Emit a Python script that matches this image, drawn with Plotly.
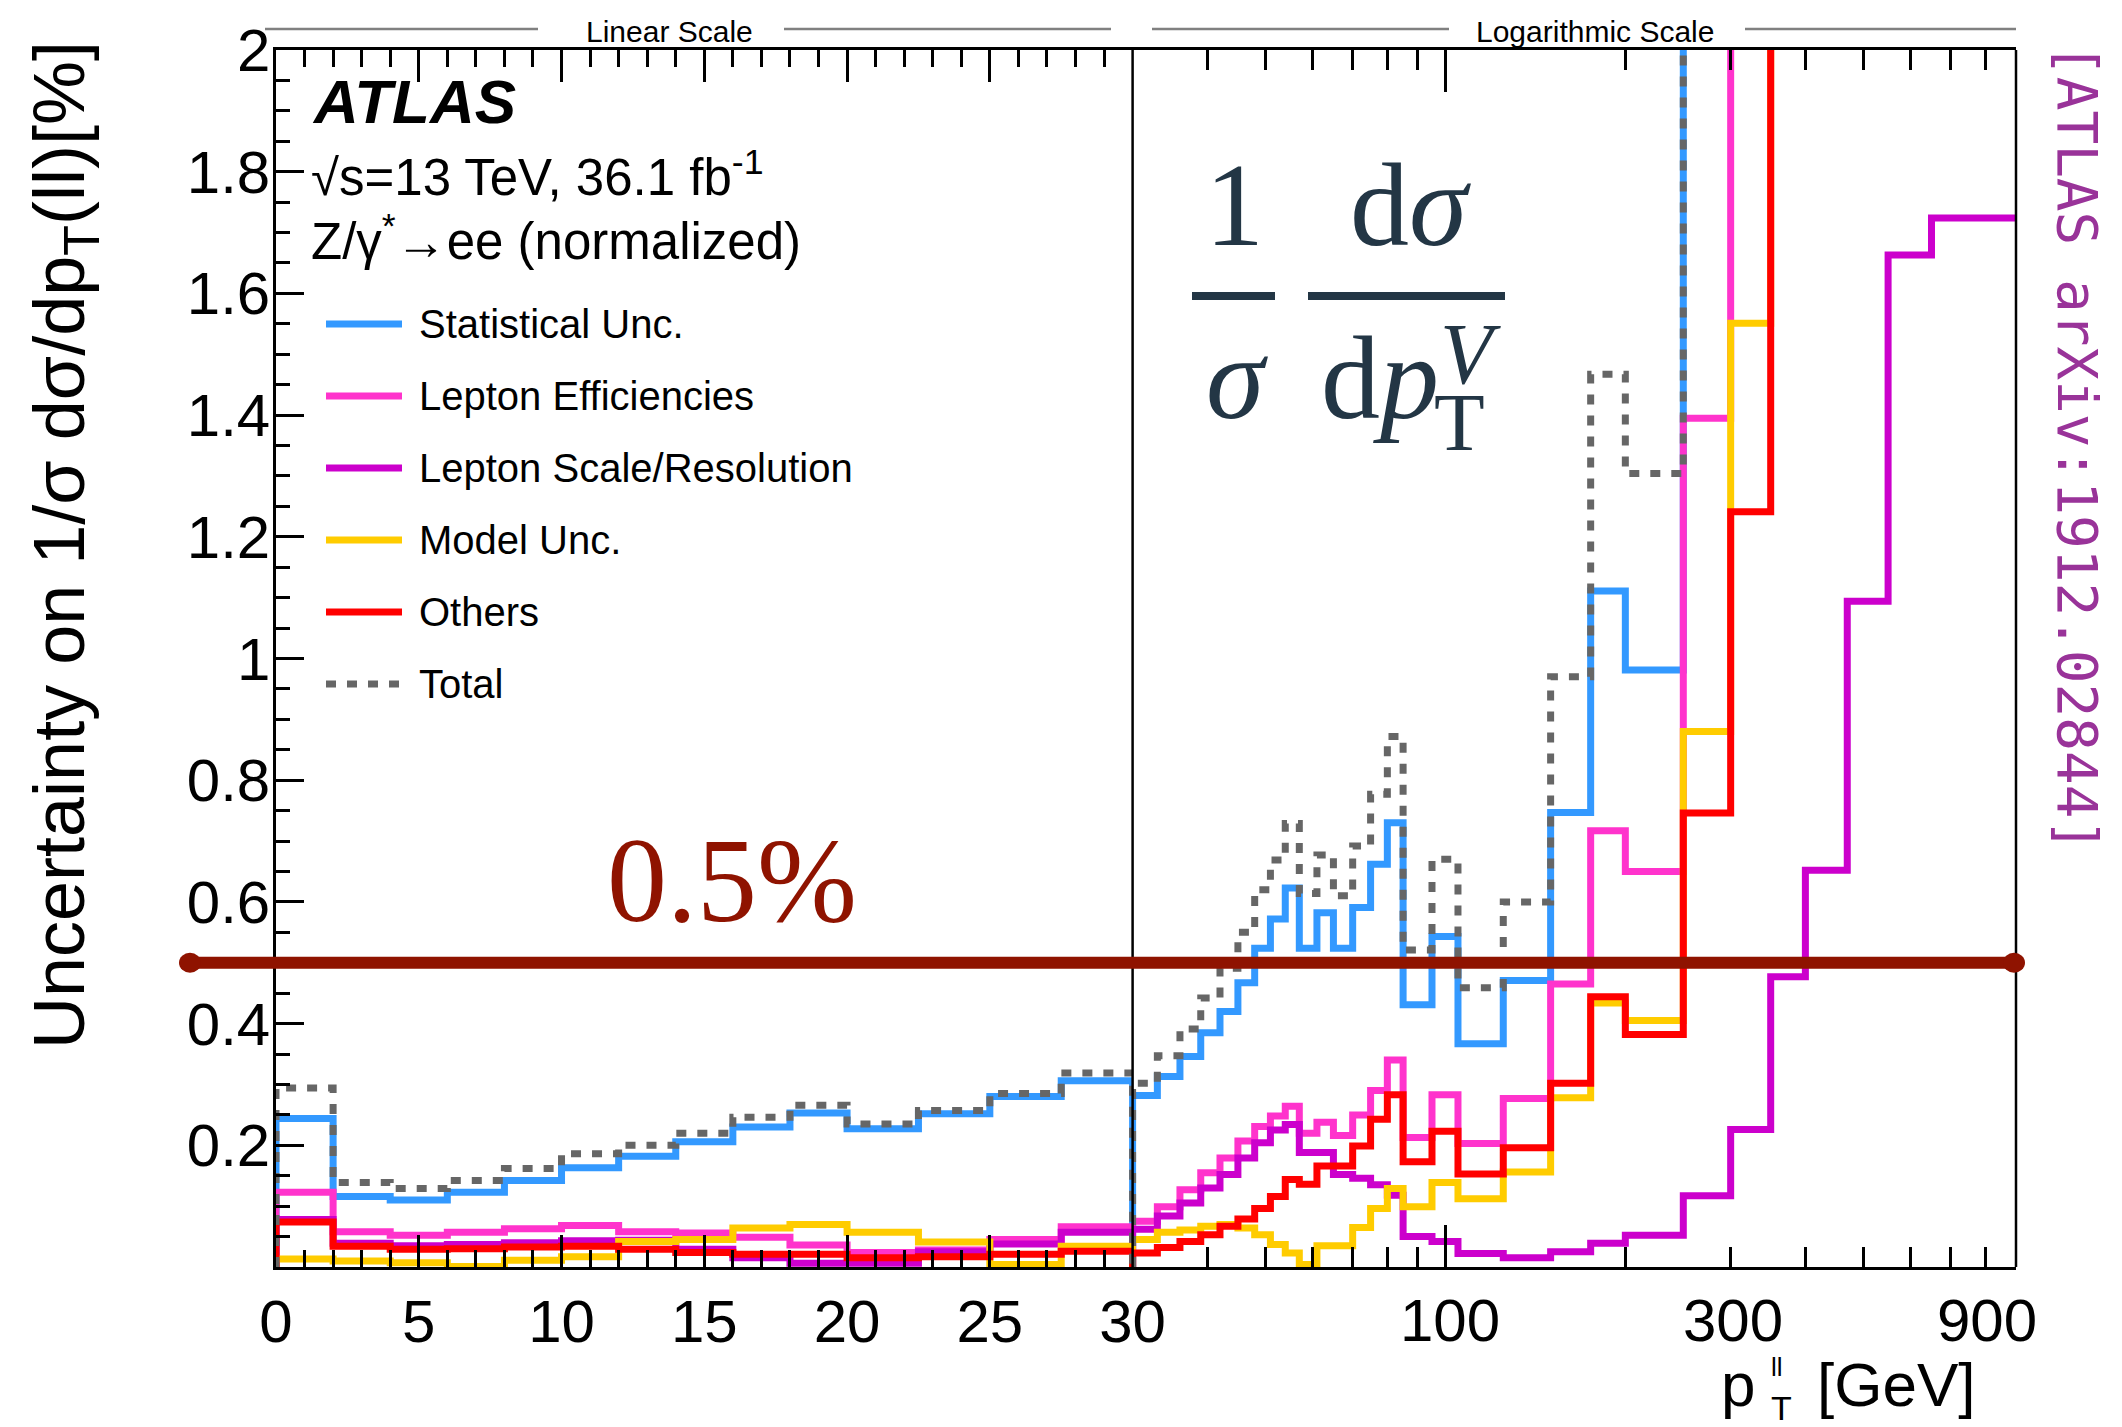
import math
import plotly.graph_objects as go

# ---------------- data ----------------
# bin edges of the dilepton pT spectrum (linear part 0-30, logarithmic part 30-900 GeV)
lin_edges = [0, 2, 4, 6, 8, 10, 12, 14, 16, 18, 20, 22.5, 25, 27.5, 30]
log_edges = [30, 33, 36, 39, 42, 45, 48, 51, 54, 57, 61, 65, 70, 75, 80, 85, 95,
             105, 125, 150, 175, 200, 250, 300, 350, 400, 470, 550, 650, 900]

# relative uncertainties in % (linear region)
stat_lin = [0.244, 0.116, 0.110, 0.123, 0.142, 0.163, 0.182, 0.206, 0.230, 0.253, 0.227, 0.252, 0.280, 0.306]
eff_lin = [0.123, 0.058, 0.052, 0.057, 0.063, 0.068, 0.058, 0.056, 0.049, 0.036, 0.024, 0.028, 0.045, 0.066]
scale_lin = [0.078, 0.039, 0.035, 0.037, 0.040, 0.043, 0.044, 0.029, 0.015, 0.006, 0.006, 0.025, 0.038, 0.057]
model_lin = [0.013, 0.010, 0.007, 0.001, 0.011, 0.017, 0.042, 0.045, 0.064, 0.070, 0.057, 0.041, 0.004, 0.034]
others_lin = [0.074, 0.034, 0.029, 0.030, 0.033, 0.034, 0.029, 0.024, 0.021, 0.021, 0.015, 0.017, 0.021, 0.026]
total_lin = [0.294, 0.139, 0.129, 0.142, 0.162, 0.186, 0.200, 0.220, 0.246, 0.266, 0.235, 0.257, 0.285, 0.319]

# relative uncertainties in % (logarithmic region)
stat_log = [0.282, 0.313, 0.346, 0.385, 0.420, 0.467, 0.524, 0.572, 0.623, 0.524, 0.582, 0.524, 0.591,
            0.662, 0.730, 0.431, 0.543, 0.367, 0.471, 0.747, 1.111, 0.981, 2.6, 3.2, 3.9, 4.6, 5.5, 6.5, 8.0]
eff_log = [0.075, 0.099, 0.127, 0.155, 0.179, 0.207, 0.231, 0.248, 0.264, 0.220, 0.238, 0.216, 0.250,
           0.290, 0.340, 0.213, 0.283, 0.203, 0.277, 0.465, 0.717, 0.650, 1.395, 2.8, 3.2, 3.6, 4.0, 4.5, 5.0]
scale_log = [0.062, 0.084, 0.105, 0.130, 0.152, 0.179, 0.204, 0.225, 0.234, 0.188, 0.188, 0.152, 0.146,
             0.135, 0.118, 0.050, 0.042, 0.022, 0.015, 0.025, 0.039, 0.052, 0.117, 0.226, 0.477, 0.652,
             1.094, 1.663, 1.724]
model_log = [0.045, 0.057, 0.061, 0.067, 0.070, 0.064, 0.053, 0.037, 0.023, 0.004, 0.035, 0.035, 0.065,
             0.096, 0.129, 0.099, 0.139, 0.112, 0.156, 0.278, 0.434, 0.405, 0.880, 1.551, 2.6, 3.0, 3.4,
             3.8, 4.2]
others_log = [0.023, 0.032, 0.042, 0.053, 0.067, 0.079, 0.096, 0.116, 0.144, 0.136, 0.166, 0.166, 0.199,
              0.243, 0.283, 0.173, 0.223, 0.153, 0.196, 0.302, 0.444, 0.382, 0.746, 1.241, 2.9, 3.3, 3.7,
              4.1, 4.5]
total_log = [0.302, 0.347, 0.391, 0.442, 0.491, 0.550, 0.620, 0.669, 0.729, 0.614, 0.677, 0.610, 0.692,
             0.777, 0.872, 0.521, 0.670, 0.459, 0.600, 0.970, 1.467, 1.304, 3.0, 4.3, 5.4, 6.2, 7.2, 8.2, 9.6]

series_names = ["Statistical Unc.", "Lepton Efficiencies", "Lepton Scale/Resolution",
                "Model Unc.", "Others", "Total"]
series_colors = ["#3399ff", "#ff33cc", "#cc00cc", "#ffcc00", "#ff0000", "#666666"]
lin_values = [stat_lin, eff_lin, scale_lin, model_lin, others_lin, total_lin]
log_values = [stat_log, eff_log, scale_log, model_log, others_log, total_log]

ref_level = 0.5

lin_ticks = [0, 5, 10, 15, 20, 25, 30]
log_labels = [100, 300, 900]
y_ticks = [0.2, 0.4, 0.6, 0.8, 1.0, 1.2, 1.4, 1.6, 1.8, 2.0]
y_ticktext = ["0.2", "0.4", "0.6", "0.8", "1", "1.2", "1.4", "1.6", "1.8", "2"]

# ---------------- geometry ----------------
W, H = 2122, 1427
M_L, M_R, M_T, M_B = 276, 106, 50, 160
PW = W - M_L - M_R
PH = H - M_T - M_B
SPLIT = 856.6 / PW

SANS = "Liberation Sans, Arial, Helvetica, sans-serif"
SERIF = "Liberation Serif, Times New Roman, serif"
MONO = "DejaVu Sans Mono, Liberation Mono, monospace"
LW = 7
TOTAL_DASH = "10px,11px"
TICK_FONT = 60


def xp(px):
    return (px - M_L) / PW


def yp(py):
    return (H - M_B - py) / PH


def step_xy(edges, vals, close_right=True):
    xs = [edges[0]] + list(edges[:-1]) + [edges[-1]]
    ys = [0] + list(vals) + [0 if close_right else vals[-1]]
    return xs, ys


fig = go.Figure()

for name, color, lv, gv in zip(series_names, series_colors, lin_values, log_values):
    dash = TOTAL_DASH if name == "Total" else "solid"
    x1, y1 = step_xy(lin_edges, lv, True)
    fig.add_trace(go.Scatter(x=x1, y=y1, mode="lines", line_shape="hv", name=name,
                             line=dict(color=color, width=LW, dash=dash),
                             xaxis="x", yaxis="y", hoverinfo="skip"))
    x2, y2 = step_xy(log_edges, gv, False)
    fig.add_trace(go.Scatter(x=x2, y=y2, mode="lines", line_shape="hv", name=name,
                             line=dict(color=color, width=LW, dash=dash),
                             xaxis="x2", yaxis="y", hoverinfo="skip", showlegend=False))

axis_common = dict(showgrid=False, zeroline=False, showline=True, linewidth=2.5,
                   linecolor="black", ticks="inside", tickwidth=2.5, tickcolor="black")

fig.update_layout(
    width=W, height=H, autosize=False,
    margin=dict(l=M_L, r=M_R, t=M_T, b=M_B, pad=0),
    paper_bgcolor="white", plot_bgcolor="white",
    showlegend=False,
    xaxis=dict(domain=[0, SPLIT], range=[0, 30], anchor="y", mirror="ticks",
               tickmode="array", tickvals=lin_ticks, ticktext=[str(t) for t in lin_ticks],
               ticklen=32, ticklabelstandoff=0,
               minor=dict(tickmode="linear", tick0=0, dtick=1, ticks="inside", ticklen=17,
                          tickwidth=2.5, tickcolor="black"),
               tickfont=dict(family=SANS, size=TICK_FONT, color="black"), **axis_common),
    xaxis2=dict(domain=[SPLIT, 1], type="log", range=[math.log10(30), math.log10(900)],
                anchor="y", mirror="ticks", tickmode="array", tickvals=[100],
                showticklabels=False, ticklen=42,
                minor=dict(tickmode="array",
                           tickvals=[40, 50, 60, 70, 80, 90, 200, 300, 400, 500, 600, 700, 800],
                           ticks="inside", ticklen=20, tickwidth=2.5, tickcolor="black"),
                **axis_common),
    yaxis=dict(domain=[0, 1], range=[0, 2], anchor="x", mirror=False,
               tickmode="array", tickvals=y_ticks, ticktext=y_ticktext,
               ticklen=28, ticklabelstandoff=-9,
               minor=dict(tickmode="linear", tick0=0, dtick=0.05, ticks="inside", ticklen=14,
                          tickwidth=2.5, tickcolor="black"),
               tickfont=dict(family=SANS, size=TICK_FONT, color="black"), **axis_common),
)

shapes = []
annotations = []

# frame: right edge and the linear/log divider
shapes.append(dict(type="line", xref="paper", yref="paper", x0=1, x1=1, y0=0, y1=1,
                   line=dict(color="black", width=2.5), layer="above"))
shapes.append(dict(type="line", xref="paper", yref="paper", x0=SPLIT, x1=SPLIT, y0=0, y1=1,
                   line=dict(color="black", width=2.5), layer="above"))

# reference level at 0.5 %
RED_DARK = "#8f1300"
shapes.append(dict(type="line", xref="paper", yref="y", x0=xp(190), x1=xp(2014),
                   y0=ref_level, y1=ref_level, line=dict(color=RED_DARK, width=12), layer="above"))
for cx in (190, 2014):
    shapes.append(dict(type="circle", xref="paper", yref="y", xsizemode="pixel", ysizemode="pixel",
                       xanchor=xp(cx), yanchor=ref_level, x0=-11, x1=11, y0=-10, y1=10,
                       fillcolor=RED_DARK, line=dict(color=RED_DARK, width=0), layer="above"))
annotations.append(dict(text="0.5%", xref="paper", yref="paper", x=xp(732), y=yp(880),
                        xanchor="center", yanchor="middle", showarrow=False,
                        font=dict(family=SERIF, size=120, color=RED_DARK)))

# scale captions above the frame
for (txt, cx, segs) in [("Linear Scale", 669, [(265, 538), (784, 1111)]),
                        ("Logarithmic Scale", 1595, [(1152, 1449), (1745, 2016)])]:
    annotations.append(dict(text=txt, xref="paper", yref="paper", x=xp(cx), y=yp(31),
                            xanchor="center", yanchor="middle", showarrow=False,
                            font=dict(family=SANS, size=30, color="black")))
    for a, b in segs:
        shapes.append(dict(type="line", xref="paper", yref="paper", x0=xp(a), x1=xp(b),
                           y0=yp(29), y1=yp(29), line=dict(color="#808080", width=2.5)))

# log-axis tick labels
for val, cx in zip(log_labels, [1450, 1733, 1987]):
    annotations.append(dict(text=str(val), xref="paper", yref="paper", x=xp(cx), y=yp(1321),
                            xanchor="center", yanchor="middle", showarrow=False,
                            font=dict(family=SANS, size=TICK_FONT, color="black")))

# axis titles
annotations.append(dict(text="Uncertainty on 1/σ dσ/dp<sub>T</sub>(ll)[%]", textangle=-90,
                        xref="paper", yref="paper", x=xp(64), y=yp(545),
                        xanchor="center", yanchor="middle", showarrow=False,
                        font=dict(family=SANS, size=72, color="black")))
annotations.append(dict(text="p", xref="paper", yref="paper", x=xp(1738), y=yp(1384),
                        xanchor="center", yanchor="middle", showarrow=False,
                        font=dict(family=SANS, size=62, color="black")))
annotations.append(dict(text="ll", xref="paper", yref="paper", x=xp(1777), y=yp(1367),
                        xanchor="center", yanchor="middle", showarrow=False,
                        font=dict(family=SANS, size=26, color="black")))
annotations.append(dict(text="T", xref="paper", yref="paper", x=xp(1781), y=yp(1408),
                        xanchor="center", yanchor="middle", showarrow=False,
                        font=dict(family=SANS, size=34, color="black")))
annotations.append(dict(text="[GeV]", xref="paper", yref="paper", x=xp(1815), y=yp(1384),
                        xanchor="left", yanchor="middle", showarrow=False,
                        font=dict(family=SANS, size=62, color="black")))

# experiment labels
annotations.append(dict(text="<b><i>ATLAS</i></b>", xref="paper", yref="paper", x=xp(310), y=yp(102),
                        xanchor="left", yanchor="middle", showarrow=False,
                        font=dict(family=SANS, size=62, color="black")))
annotations.append(dict(text="√s=13 TeV, 36.1 fb<sup>-1</sup>", xref="paper", yref="paper",
                        x=xp(309), y=yp(174), xanchor="left", yanchor="middle", showarrow=False,
                        font=dict(family=SANS, size=51, color="black")))
annotations.append(dict(text="Z/γ<sup>*</sup>→ee (normalized)", xref="paper", yref="paper",
                        x=xp(309), y=yp(238), xanchor="left", yanchor="middle", showarrow=False,
                        font=dict(family=SANS, size=51, color="black")))

# legend
for i, (name, color) in enumerate(zip(series_names, series_colors)):
    cy = 324 + 72 * i
    dash = TOTAL_DASH if name == "Total" else "solid"
    shapes.append(dict(type="line", xref="paper", yref="paper", x0=xp(326), x1=xp(402),
                       y0=yp(cy), y1=yp(cy), line=dict(color=color, width=LW, dash=dash)))
    annotations.append(dict(text=name, xref="paper", yref="paper", x=xp(417), y=yp(cy),
                            xanchor="left", yanchor="middle", showarrow=False,
                            font=dict(family=SANS, size=40, color="black")))

# normalised differential cross-section formula
INK = "#233645"
formula = [("1", 1234, 205, 118), ("d<i>σ</i>", 1410, 205, 118),
           ("<i>σ</i>", 1237, 378, 118), ("d<i>p</i>", 1380, 378, 118),
           ("<i>V</i>", 1470, 354, 86), ("T", 1459, 422, 83)]
for txt, cx, cy, size in formula:
    annotations.append(dict(text=txt, xref="paper", yref="paper", x=xp(cx), y=yp(cy),
                            xanchor="center", yanchor="middle", showarrow=False,
                            font=dict(family=SERIF, size=size, color=INK)))
for a, b in [(1192, 1275), (1308, 1505)]:
    shapes.append(dict(type="line", xref="paper", yref="paper", x0=xp(a), x1=xp(b),
                       y0=yp(296), y1=yp(296), line=dict(color=INK, width=8)))

# reference tag
annotations.append(dict(text="[ATLAS arXiv:1912.02844]", textangle=90, xref="paper", yref="paper",
                        x=xp(2077), y=yp(447), xanchor="center", yanchor="middle", showarrow=False,
                        font=dict(family=MONO, size=56, color="#993399")))

fig.update_layout(shapes=shapes, annotations=annotations)
fig.write_html("out.html")
